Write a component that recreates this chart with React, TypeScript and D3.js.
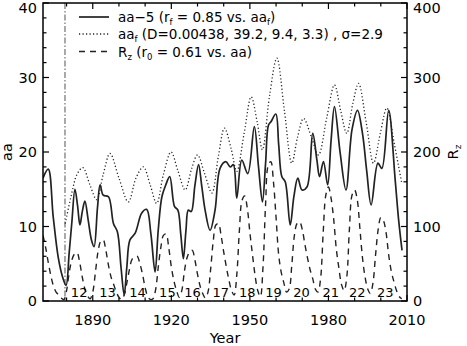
import React from "react";
import * as d3 from "d3";

const W = 467;
const H = 346;
const plot = { left: 43, right: 407, top: 3, bottom: 301 };

// aa-5 (solid), read as [year, value]
const aa5Years = [
  1871.0, 1873.0, 1874.9, 1876.8, 1878.5, 1879.8, 1881.0, 1882.0, 1883.2, 1884.2,
  1885.1, 1886.0, 1887.0, 1888.2, 1889.5, 1890.5, 1891.8, 1892.8, 1894.0, 1896.0,
  1897.9, 1899.4, 1900.8, 1902.0, 1903.0, 1904.2, 1906.2, 1908.7, 1910.6, 1912.2,
  1913.8, 1915.0, 1916.4, 1917.8, 1919.4, 1921.2, 1922.5, 1923.6, 1924.6, 1925.6,
  1926.5, 1927.6, 1929.0, 1930.4, 1931.6, 1932.9, 1934.8, 1936.7, 1938.6, 1940.8,
  1942.5, 1943.7, 1945.0, 1946.9, 1949.2, 1951.7, 1953.3, 1954.8, 1956.0, 1957.1,
  1958.1, 1959.9, 1961.0, 1962.2, 1963.5, 1965.4, 1966.8, 1968.3, 1969.9, 1971.8,
  1974.0, 1975.6, 1976.6, 1978.1, 1979.7, 1981.0, 1982.3, 1984.5, 1986.7, 1989.0,
  1991.1, 1993.0, 1994.6, 1996.3, 1998.9, 2000.4, 2003.0, 2005.5, 2006.8, 2008.1,
];
const aa5Values = [
  16.5, 17.7, 11.3, 5.9, 3.2, 2.1, 6.5, 10.5, 15.0, 12.8,
  10.2, 12.0, 13.4, 11.0, 8.2, 7.3, 12.5, 15.6, 14.2, 14.0,
  10.4, 9.3, 4.5, 0.8, 4.5, 8.2, 9.1, 11.8, 12.3, 9.0,
  3.9, 9.5, 14.0, 15.5, 16.7, 12.7, 12.2, 9.0, 5.7, 9.5,
  12.2, 12.0, 15.5, 18.3, 15.5, 12.2, 9.5, 12.2, 17.8, 18.7,
  18.0, 18.3, 13.8, 18.9, 17.1, 23.4, 18.0, 13.3, 18.5, 23.6,
  24.1, 25.1, 21.0, 16.7, 16.0, 10.2, 14.0, 16.5, 14.9, 15.3,
  22.5, 18.9, 16.7, 18.7, 15.6, 21.5, 26.1, 19.8, 14.9, 23.0,
  25.6, 22.5, 17.5, 12.9, 18.5, 17.8, 25.6, 16.2, 10.9, 6.8,
];

// aa_f fit (dotted)
const aafYears = [
  1879.5, 1882.0, 1884.0, 1886.2, 1889.0, 1891.5, 1894.0, 1896.6, 1900.0, 1903.6,
  1906.5, 1909.3, 1912.0, 1914.4, 1917.0, 1919.9, 1922.5, 1925.3, 1927.8, 1930.0,
  1932.8, 1935.5, 1938.0, 1940.3, 1942.8, 1945.0, 1947.8, 1950.5, 1952.8, 1954.8,
  1957.5, 1960.3, 1963.2, 1966.0, 1968.2, 1970.5, 1973.5, 1976.2, 1979.3, 1982.3,
  1984.7, 1987.0, 1989.3, 1991.5, 1994.4, 1997.2, 1999.8, 2002.3, 2005.2, 2008.0,
];
const aafValues = [
  10.4, 14.5, 17.0, 17.9, 15.5, 13.6, 17.0, 19.8, 16.5, 13.3,
  16.5, 18.0, 15.5, 13.1, 17.0, 20.0, 17.5, 14.9, 17.8, 19.6,
  17.0, 14.5, 19.5, 23.2, 20.5, 17.4, 22.5, 27.4, 24.0, 20.3,
  27.5, 32.6, 25.5, 18.5, 22.0, 24.5, 22.0, 19.6, 24.5, 29.0,
  25.5, 22.5, 26.5, 29.2, 24.0, 18.5, 22.5, 25.9, 21.0, 15.8,
];

// sunspot number Rz (dashed, right axis), one value per year from 1871
const rzStart = 1871;
const rzValues = [
  88, 72, 52, 34, 20, 12, 8, 4, 2, 14,
  38, 55, 63, 65, 52, 32, 16, 7, 3, 12,
  38, 66, 80, 82, 68, 48, 32, 22, 12, 5,
  2, 8, 24, 42, 56, 59, 60, 50, 36, 18,
  6, 2, 3, 15, 45, 72, 88, 90, 72, 46,
  27, 14, 5, 14, 40, 58, 66, 68, 55, 36,
  20, 10, 4, 12, 42, 80, 102, 104, 88, 66,
  46, 28, 14, 8, 35, 95, 135, 141, 125, 92,
  62, 34, 14, 6, 45, 130, 182, 187, 160, 112,
  62, 38, 24, 12, 16, 48, 88, 104, 106, 96,
  76, 58, 42, 30, 16, 12, 30, 92, 142, 153,
  138, 110, 70, 44, 22, 14, 32, 96, 142, 149,
  136, 98, 58, 32, 16, 10, 24, 62, 96, 112,
  108, 92, 62, 40, 26, 14, 6, 3,
];

const cycleLabels = ["12", "13", "14", "15", "16", "17", "18", "19", "20", "21", "22", "23"];
const cycleYears = [1884.8, 1895.6, 1907.1, 1918.5, 1928.1, 1938.9, 1949.0, 1959.0, 1969.7, 1980.9, 1991.0, 2001.7];

const xMajorTicks = [1890, 1920, 1950, 1980, 2010];
const separatorYear = 1879.4;

const FONT = "DejaVu Sans, sans-serif";
const INK = "#222";

// keep the topmost tick labels inside the page
const labelBaseline = (py: number) => Math.max(py + 5, 13);

export default function App() {
  const x = d3.scaleLinear().domain([1871, 2010]).range([plot.left, plot.right]);
  const yAa = d3.scaleLinear().domain([0, 40]).range([plot.bottom, plot.top]);
  const yRz = d3.scaleLinear().domain([0, 400]).range([plot.bottom, plot.top]);

  const curve = d3.curveCatmullRom.alpha(0.5);
  const aaLine = d3.line<[number, number]>().x(d => x(d[0])).y(d => yAa(d[1])).curve(curve);
  const rzLine = d3.line<[number, number]>().x(d => x(d[0])).y(d => yRz(d[1])).curve(curve);

  const aa5 = aa5Years.map((t, i) => [t, aa5Values[i]] as [number, number]);
  const aaf = aafYears.map((t, i) => [t, aafValues[i]] as [number, number]);
  const rz = rzValues.map((v, i) => [rzStart + i, v] as [number, number]);

  const xMinor = d3.range(1880, 2011, 10);
  const yAaMinor = d3.range(0, 41, 2);
  const yRzMinor = d3.range(0, 401, 20);

  const legendX0 = 79;
  const legendX1 = 109;
  const legendTextX = 118;
  const legendRows = [17, 34, 51.5];

  return (
    <svg width={W} height={H} style={{ position: "absolute", left: 0, top: 0, background: "#fff" }} fontFamily={FONT}>
      <defs>
        <clipPath id="plot-clip">
          <rect x={plot.left} y={plot.top} width={plot.right - plot.left} height={plot.bottom - plot.top} />
        </clipPath>
      </defs>

      {/* separator marking the start of the fitted interval */}
      <line x1={x(separatorYear)} x2={x(separatorYear)} y1={plot.top} y2={plot.bottom}
        stroke="#555" strokeWidth={1} strokeDasharray="6 2 1.5 2" />

      <g clipPath="url(#plot-clip)" fill="none">
        <path d={rzLine(rz) ?? ""} stroke={INK} strokeWidth={1.4} strokeDasharray="6 5" />
        <path d={aaLine(aaf) ?? ""} stroke={INK} strokeWidth={1.3} strokeDasharray="1.2 2.3" />
        <path d={aaLine(aa5) ?? ""} stroke={INK} strokeWidth={1.7} />
      </g>

      {/* frame */}
      <rect x={plot.left} y={plot.top} width={plot.right - plot.left} height={plot.bottom - plot.top}
        fill="none" stroke="#000" strokeWidth={1.5} />

      {/* x ticks, bottom and top, pointing inward */}
      {xMinor.map(t => {
        const len = xMajorTicks.includes(t) ? 6 : 3.5;
        return (
          <g key={`xt${t}`} stroke="#000" strokeWidth={1.2}>
            <line x1={x(t)} x2={x(t)} y1={plot.bottom} y2={plot.bottom - len} />
            <line x1={x(t)} x2={x(t)} y1={plot.top} y2={plot.top + len} />
          </g>
        );
      })}
      {xMajorTicks.map(t => (
        <text key={`xl${t}`} x={x(t)} y={325} fontSize={14.5} textAnchor="middle" fill="#000">{t}</text>
      ))}
      <text x={(plot.left + plot.right) / 2} y={343} fontSize={14.5} textAnchor="middle" fill="#000">Year</text>

      {/* left axis: aa */}
      {yAaMinor.map(v => (
        <line key={`ya${v}`} x1={plot.left} x2={plot.left + (v % 10 === 0 ? 6 : 3.5)} y1={yAa(v)} y2={yAa(v)}
          stroke="#000" strokeWidth={1.2} />
      ))}
      {yAa.ticks(4).map(v => (
        <text key={`yal${v}`} x={37} y={labelBaseline(yAa(v))} fontSize={14.5} textAnchor="end" fill="#000">{v}</text>
      ))}
      <text transform={`translate(12,${yAa(20)}) rotate(-90)`} fontSize={14.5} textAnchor="middle" fill="#000">aa</text>

      {/* right axis: Rz */}
      {yRzMinor.map(v => (
        <line key={`yr${v}`} x1={plot.right} x2={plot.right - (v % 100 === 0 ? 6 : 3.5)} y1={yRz(v)} y2={yRz(v)}
          stroke="#000" strokeWidth={1.2} />
      ))}
      {yRz.ticks(4).map(v => (
        <text key={`yrl${v}`} x={413} y={labelBaseline(yRz(v))} fontSize={14.5} textAnchor="start" fill="#000">{v}</text>
      ))}
      <text transform={`translate(458,${yRz(200)}) rotate(-90)`} fontSize={14.5} textAnchor="middle" fill="#000">
        R<tspan fontSize={9} dy={3}>z</tspan>
      </text>

      {/* solar cycle numbers */}
      {cycleLabels.map((c, i) => (
        <text key={`c${c}`} x={x(cycleYears[i])} y={297} fontSize={13} textAnchor="middle" fill="#000">{c}</text>
      ))}

      {/* legend */}
      <g fill="none" stroke={INK}>
        <line x1={legendX0} x2={legendX1} y1={legendRows[0]} y2={legendRows[0]} strokeWidth={1.7} />
        <line x1={legendX0} x2={legendX1} y1={legendRows[1]} y2={legendRows[1]} strokeWidth={1.3} strokeDasharray="1.2 2.3" />
        <line x1={legendX0} x2={legendX1} y1={legendRows[2]} y2={legendRows[2]} strokeWidth={1.4} strokeDasharray="6 5" />
      </g>
      <g fontSize={13.5} fill="#000">
        <text x={legendTextX} y={legendRows[0] + 5}>
          aa−5 (r<tspan fontSize={8.5} dy={3}>f</tspan><tspan dy={-3}> = 0.85 vs. aa</tspan>
          <tspan fontSize={8.5} dy={3}>f</tspan><tspan dy={-3}>)</tspan>
        </text>
        <text x={legendTextX} y={legendRows[1] + 5}>
          aa<tspan fontSize={8.5} dy={3}>f</tspan><tspan dy={-3}> (D=0.00438, 39.2, 9.4, 3.3) , σ=2.9</tspan>
        </text>
        <text x={legendTextX} y={legendRows[2] + 5}>
          R<tspan fontSize={8.5} dy={3}>z</tspan><tspan dy={-3}> (r</tspan>
          <tspan fontSize={8.5} dy={3}>0</tspan><tspan dy={-3}> = 0.61 vs. aa)</tspan>
        </text>
      </g>
    </svg>
  );
}
